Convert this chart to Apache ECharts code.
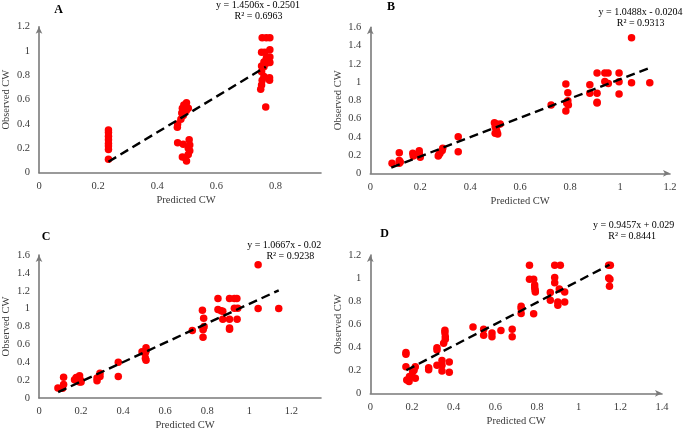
<!DOCTYPE html>
<html><head><meta charset="utf-8">
<script src="https://cdn.jsdelivr.net/npm/echarts@6/dist/echarts.min.js"></script>
<style>html,body{margin:0;padding:0;background:#fff}#c{width:685px;height:432px}</style>
</head><body><div id="c"></div>
<script>
// ---------- data ----------
const panelNames = ['A', 'B', 'C', 'D'];
const equations = ['y = 1.4506x - 0.2501', 'y = 1.0488x - 0.0204', 'y = 1.0667x - 0.02', 'y = 0.9457x + 0.029'];
const r2Texts = ['R² = 0.6963', 'R² = 0.9313', 'R² = 0.9238', 'R² = 0.8441'];
const xAxisTitle = 'Predicted CW';
const yAxisTitle = 'Observed CW';
const xMaxes = [0.954, 1.2, 1.341, 1.4];
const yMaxes = [1.2, 1.6, 1.6, 1.2];

const pointsA = [
  [0.235,0.35],[0.235,0.33],[0.235,0.30],[0.235,0.27],[0.235,0.24],[0.235,0.22],[0.235,0.19],[0.235,0.11],
  [0.499,0.575],[0.49,0.556],[0.485,0.53],[0.49,0.505],[0.483,0.49],[0.488,0.47],[0.48,0.44],[0.505,0.53],[0.498,0.51],[0.469,0.40],[0.468,0.373],
  [0.469,0.247],[0.488,0.233],[0.508,0.27],[0.51,0.228],[0.505,0.20],[0.51,0.18],[0.485,0.13],[0.494,0.125],[0.499,0.097],[0.505,0.15],
  [0.755,1.11],[0.769,1.11],[0.781,1.11],[0.753,0.99],[0.764,0.99],[0.781,1.01],
  [0.769,0.94],[0.781,0.95],[0.761,0.91],[0.781,0.905],[0.769,0.90],[0.753,0.877],[0.761,0.87],
  [0.753,0.83],[0.761,0.79],[0.755,0.76],[0.78,0.78],[0.78,0.76],[0.753,0.72],[0.75,0.685],[0.767,0.54]
];
const pointsB = [
  [0.087,0.11],[0.116,0.226],[0.116,0.14],[0.116,0.11],[0.12,0.125],
  [0.17,0.219],[0.172,0.19],[0.175,0.205],[0.196,0.248],[0.199,0.19],[0.196,0.22],[0.2,0.175],
  [0.272,0.19],[0.275,0.205],[0.279,0.219],[0.29,0.274],[0.288,0.25],
  [0.352,0.40],[0.352,0.237],
  [0.497,0.555],[0.505,0.54],[0.51,0.53],[0.5,0.51],[0.503,0.49],[0.507,0.457],[0.5,0.44],[0.51,0.43],[0.52,0.54],
  [0.724,0.749],
  [0.783,0.979],[0.783,0.683],[0.787,0.767],[0.791,0.884],[0.791,0.796],[0.793,0.749],[0.787,0.78],
  [0.879,0.97],[0.879,0.877],[0.908,1.10],[0.908,0.877],[0.908,0.78],[0.908,0.77],[0.939,1.10],[0.952,1.10],
  [0.939,1.005],[0.953,0.985],[0.996,1.10],[0.996,1.004],[0.996,0.869],[1.046,1.486],[1.046,0.993],[1.119,0.993]
];
const pointsC = [
  [0.09,0.113],[0.117,0.233],[0.117,0.15],[0.112,0.108],
  [0.169,0.205],[0.177,0.23],[0.193,0.25],[0.193,0.18],[0.2,0.18],[0.185,0.215],[0.198,0.2],
  [0.276,0.194],[0.276,0.224],[0.29,0.277],[0.29,0.24],
  [0.377,0.40],[0.377,0.24],
  [0.49,0.517],[0.509,0.561],[0.509,0.525],[0.506,0.444],[0.509,0.422],[0.505,0.5],
  [0.729,0.756],
  [0.777,0.983],[0.78,0.679],[0.78,0.763],[0.783,0.892],[0.785,0.8],[0.782,0.78],
  [0.851,1.112],[0.851,0.991],[0.866,0.976],[0.874,0.881],[0.874,0.97],
  [0.906,1.112],[0.906,0.881],[0.906,0.782],[0.906,0.77],
  [0.929,1.112],[0.941,1.112],[0.929,1.005],[0.945,1.005],[0.942,0.881],
  [1.042,1.49],[1.042,1.002],[1.14,1.002]
];
const pointsD = [
  [0.171,0.355],[0.171,0.338],[0.171,0.231],[0.175,0.115],[0.186,0.103],[0.188,0.145],[0.203,0.185],[0.21,0.20],[0.216,0.231],[0.216,0.13],
  [0.28,0.222],[0.28,0.205],
  [0.32,0.396],[0.32,0.375],[0.32,0.243],[0.344,0.285],[0.344,0.243],[0.344,0.194],[0.352,0.434],[0.358,0.547],[0.358,0.526],[0.36,0.49],[0.36,0.468],[0.379,0.272],[0.379,0.182],
  [0.493,0.575],[0.544,0.555],[0.544,0.503],[0.584,0.523],[0.584,0.49],[0.627,0.545],[0.681,0.555],[0.681,0.49],
  [0.724,0.755],[0.724,0.735],[0.724,0.692],
  [0.764,1.11],[0.764,0.99],[0.784,0.99],[0.789,0.94],[0.789,0.915],[0.791,0.896],[0.792,0.879],[0.784,0.69],
  [0.864,0.875],[0.864,0.807],
  [0.885,1.11],[0.885,1.005],[0.885,0.96],[0.912,1.11],[0.907,0.905],[0.9,0.792],[0.9,0.765],[0.933,0.879],[0.933,0.792],
  [1.144,1.11],[1.152,1.11],[1.144,1.0],[1.15,0.99],[1.148,0.928]
];
const trendA = [[0.235,0.09],[0.767,0.87]];
const trendB = [[0.084,0.062],[1.127,1.165]];
const trendC = [[0.091,0.066],[1.14,1.205]];
const trendD = [[0.173,0.20],[1.148,1.115]];

// ---------- layout ----------
const points = [pointsA, pointsB, pointsC, pointsD];
const trends = [trendA, trendB, trendC, trendD];
const grids = [
  {left: 35.7, top: 26.7, width: 285.3, height: 146},
  {left: 370.3, top: 27.3, width: 299.7, height: 146},
  {left: 35.7, top: 255, width: 285.3, height: 145.3},
  {left: 370.3, top: 255, width: 291.7, height: 138.3}
];
const xArrow = [false, true, false, true];
const xNamePad = [[0,0,0,12],[0,0,0,0],[0,0,0,10],[0,0,0,0]];
const titlePos = [[58.7,10],[391,7],[46,236.5],[384.7,234.3]];
const eqPos = [[258,5],[640.5,12],[284.2,245.3],[633.7,225]];
const r2Pos = [[258.5,16],[640.7,23.3],[290.3,256],[632.2,236]];

const FONT = '"Liberation Serif", "Times New Roman", serif';
const axisColor = '#7a7a7a';
const textColor = '#3a3a3a';

const xAxis = [], yAxis = [], series = [], graphic = [];
for (let i = 0; i < 4; i++) {
  xAxis.push({
    gridIndex: i, type: 'value', min: 0, max: xMaxes[i], interval: 0.2,
    name: xAxisTitle, nameLocation: 'middle', nameGap: 22,
    nameTextStyle: {fontFamily: FONT, fontSize: 10.5, color: textColor, padding: xNamePad[i]},
    axisLine: {show: true, lineStyle: {color: axisColor, width: 1.6},
      symbol: xArrow[i] ? ['none', 'arrow'] : ['none', 'none'], symbolSize: [5, 7]},
    axisTick: {show: false}, splitLine: {show: false},
    axisLabel: {fontFamily: FONT, fontSize: 10.5, color: textColor, margin: 8, showMaxLabel: xArrow[i],
      formatter: v => String(+v.toFixed(1))}
  });
  yAxis.push({
    gridIndex: i, type: 'value', min: 0, max: yMaxes[i], interval: 0.2,
    name: yAxisTitle, nameLocation: 'middle', nameGap: 27,
    nameTextStyle: {fontFamily: FONT, fontSize: 10.5, color: textColor},
    axisLine: {show: true, lineStyle: {color: axisColor, width: 1.6},
      symbol: ['none', 'arrow'], symbolSize: [5, 7]},
    axisTick: {show: false}, splitLine: {show: false},
    axisLabel: {fontFamily: FONT, fontSize: 10.5, color: textColor, margin: 9,
      formatter: v => String(+v.toFixed(1))}
  });
  series.push({
    type: 'scatter', xAxisIndex: i, yAxisIndex: i, data: points[i],
    symbolSize: 7.5, itemStyle: {color: '#ff0000', opacity: 1}, z: 3
  });
  series.push({
    type: 'line', xAxisIndex: i, yAxisIndex: i, data: trends[i],
    symbol: 'none', lineStyle: {color: '#000', width: 2.4, type: [9, 5]}, z: 4
  });
  graphic.push({type: 'text', x: titlePos[i][0], y: titlePos[i][1],
    style: {text: panelNames[i], font: 'bold 12px ' + FONT, fill: '#000', textAlign: 'center', textVerticalAlign: 'middle'}});
  graphic.push({type: 'text', x: eqPos[i][0], y: eqPos[i][1],
    style: {text: equations[i], font: '10px ' + FONT, fill: '#000', textAlign: 'center', textVerticalAlign: 'middle'}});
  graphic.push({type: 'text', x: r2Pos[i][0], y: r2Pos[i][1],
    style: {text: r2Texts[i], font: '10px ' + FONT, fill: '#000', textAlign: 'center', textVerticalAlign: 'middle'}});
}

const chart = echarts.init(document.getElementById('c'), null, {renderer: 'canvas'});
chart.setOption({
  animation: false,
  backgroundColor: '#fff',
  grid: grids,
  xAxis: xAxis, yAxis: yAxis, series: series, graphic: graphic
});
</script>
</body></html>
